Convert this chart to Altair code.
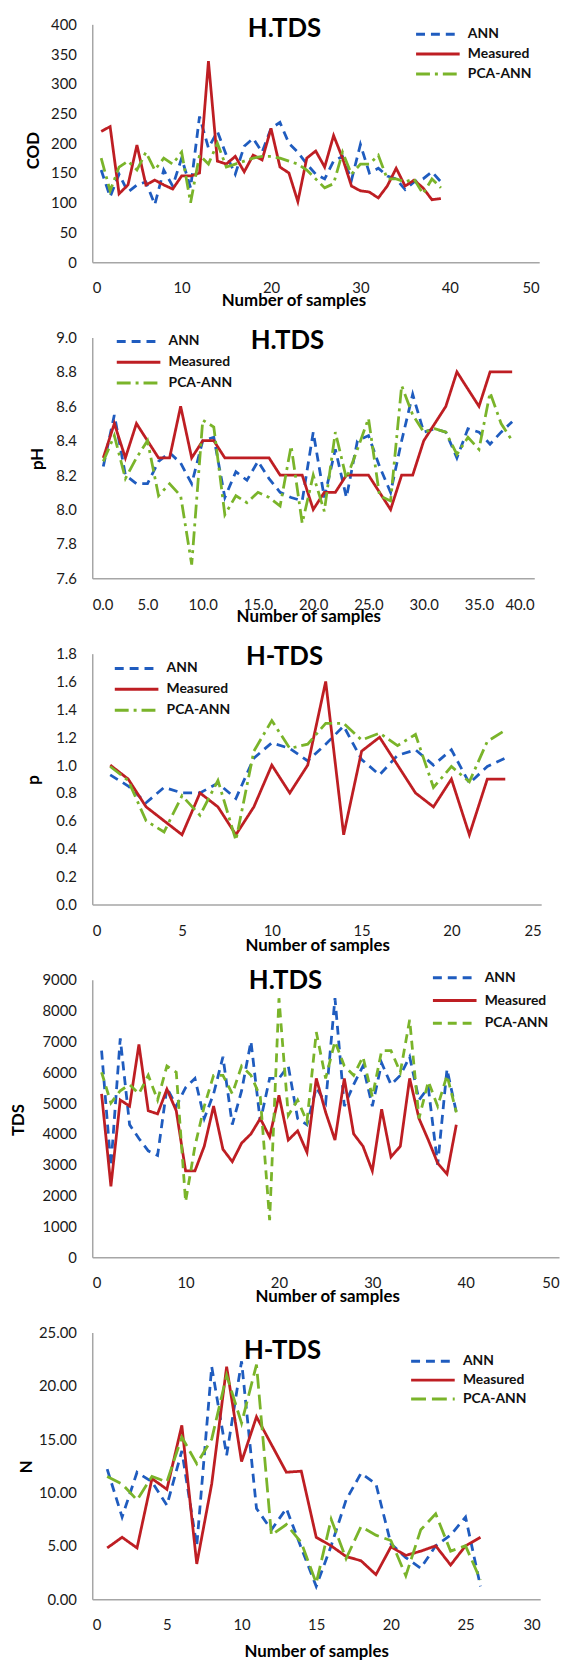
import altair as alt
import pandas as pd

# ---------------- data ----------------
names = ["ANN", "Measured", "PCA-ANN"]
colors = ["#1F5CBF", "#BE1E23", "#7AB42A"]

# Panel 1 : COD
cod_x = list(range(1, 40))
cod_ann = [155, 110, 148, 118, 130, 135, 97, 155, 128, 175, 125, 245, 192, 220, 180, 148, 195, 208, 185, 225,
           235, 200, 185, 165, 148, 140, 170, 178, 138, 198, 150, 158, 145, 140, 122, 135, 140, 152, 135]
cod_meas = [220, 228, 115, 130, 197, 130, 138, 130, 123, 145, 145, 150, 338, 170, 165, 178, 152, 180, 172, 225,
            160, 150, 102, 175, 187, 160, 213, 175, 128, 120, 118, 108, 128, 158, 128, 138, 125, 105, 107]
cod_pca = [175, 120, 160, 170, 155, 185, 155, 175, 165, 185, 100, 180, 165, 200, 160, 165, 170, 175, 178, 178,
           175, 170, 165, 155, 140, 125, 132, 185, 148, 165, 165, 180, 140, 140, 135, 140, 115, 140, 125]

# Panel 2 : pH
ph_x = list(range(1, 39))
ph_ann = [8.25, 8.55, 8.20, 8.15, 8.15, 8.28, 8.33, 8.27, 8.15, 8.40, 8.42, 8.07, 8.22, 8.17, 8.28, 8.18, 8.10,
          8.07, 8.05, 8.45, 8.07, 8.35, 8.07, 8.40, 8.43, 8.25, 8.10, 8.40, 8.67, 8.45, 8.47, 8.45, 8.30, 8.47,
          8.45, 8.38, 8.45, 8.51]
ph_meas = [8.3, 8.5, 8.3, 8.5, 8.4, 8.3, 8.3, 8.6, 8.3, 8.4, 8.4, 8.3, 8.3, 8.3, 8.3, 8.3, 8.2, 8.2, 8.2, 8.0,
           8.1, 8.1, 8.2, 8.2, 8.2, 8.1, 8.0, 8.2, 8.2, 8.4, 8.5, 8.6, 8.8, 8.7, 8.6, 8.8, 8.8, 8.8]
ph_pca = [8.28, 8.43, 8.18, 8.30, 8.40, 8.08, 8.15, 8.08, 7.68, 8.52, 8.48, 7.97, 8.08, 8.04, 8.10, 8.07, 8.02,
          8.37, 7.92, 8.20, 7.99, 8.45, 8.18, 8.35, 8.53, 8.08, 8.05, 8.72, 8.55, 8.45, 8.47, 8.45, 8.32, 8.42,
          8.35, 8.68, 8.50, 8.40]

# Panel 3 : p
p_x = list(range(1, 24))
p_ann = [0.93, 0.85, 0.73, 0.84, 0.80, 0.80, 0.87, 0.76, 1.05, 1.16, 1.12, 1.03, 1.15, 1.28, 1.04, 0.93, 1.07,
         1.11, 1.00, 1.11, 0.87, 0.99, 1.05]
p_meas = [1.0, 0.9, 0.7, 0.6, 0.5, 0.8, 0.7, 0.5, 0.7, 1.0, 0.8, 1.0, 1.6, 0.5, 1.1, 1.2, 1.0, 0.8, 0.7, 0.9,
          0.5, 0.9, 0.9]
p_pca = [0.99, 0.89, 0.60, 0.52, 0.78, 0.64, 0.89, 0.46, 1.10, 1.32, 1.12, 1.15, 1.30, 1.30, 1.18, 1.23, 1.14,
         1.22, 0.84, 0.99, 0.88, 1.17, 1.25]

# Panel 4 : TDS
tds_x = list(range(1, 40))
tds_ann = [6700, 2950, 7100, 4300, 3850, 3450, 3300, 5500, 4900, 5500, 5800, 4500, 5300, 6500, 4300, 5400, 7000,
           4400, 5800, 5800, 6200, 4500, 4300, 5500, 5000, 8400, 4900, 5600, 6200, 4900, 6300, 5600, 5900, 6500,
           5100, 5500, 3000, 6100, 4700]
tds_meas = [5300, 2300, 5100, 4900, 6900, 4750, 4650, 5450, 4750, 2800, 2800, 3600, 4900, 3500, 3100, 3700, 4000,
            4500, 3900, 5250, 3800, 4100, 3400, 5800, 4700, 3800, 5800, 4000, 3600, 2800, 4800, 3250, 3600, 5800,
            4500, 3800, 3050, 2700, 4300]
tds_pca = [6000, 5000, 5400, 5600, 5300, 5900, 5100, 6200, 6000, 1800, 3600, 4900, 5900, 5900, 5300, 6200, 5900,
           5200, 1200, 8400, 4600, 5100, 4400, 7300, 5800, 7000, 6200, 5900, 6500, 5200, 6700, 6700, 6000, 7700,
           4500, 5700, 4900, 5900, 4700]

# Panel 5 : N
n_x = list(range(1, 27))
n_ann = [12.2, 7.7, 11.9, 11.0, 8.8, 13.9, 5.0, 21.8, 13.5, 22.3, 8.5, 6.5, 8.5, 4.8, 1.2, 5.0, 9.3, 11.8, 10.8,
         5.2, 3.9, 2.9, 5.0, 6.0, 7.7, 1.2]
n_meas = [4.8, 5.8, 4.8, 11.3, 10.3, 16.3, 3.3, 10.8, 21.8, 12.9, 17.1, 14.5, 11.9, 12.0, 5.8, 5.0, 4.0, 3.6, 2.3,
          4.9, 4.1, 4.5, 5.0, 3.2, 5.0, 5.8]
n_pca = [11.5, 10.8, 9.3, 11.5, 11.0, 15.2, 12.7, 15.0, 21.0, 16.5, 22.0, 6.0, 7.0, 5.3, 1.5, 7.5, 3.8, 6.8, 6.0,
         5.5, 2.2, 6.5, 8.0, 4.5, 5.0, 1.8]

FONT = "Lato"


def long_df(x, ann, meas, pca):
    rows = []
    for nm, vals in zip(names, [ann, meas, pca]):
        for xi, v in zip(x, vals):
            rows.append({"x": xi, "value": v, "series": nm})
    return pd.DataFrame(rows)


def panel(df, W, H, title, xmax, xvals, xfmt, ytitle, ydom, yvals, yfmt,
          pca_dash, tx, ty, legx, legy, rowpad, ytx, yty, xtx, xty):
    dashes = [[9, 6], [1, 0], pca_dash]
    leg = alt.Legend(
        title=None, orient="none", legendX=legx, legendY=legy, padding=0,
        symbolType="M-7.5,0H0.5", symbolSize=121, symbolStrokeWidth=3,
        labelFont=FONT, labelFontSize=14, labelFontWeight="bold", labelColor="#111111",
        labelOffset=4, rowPadding=rowpad,
    )
    lines = alt.Chart(df).mark_line(strokeWidth=2.8).encode(
        x=alt.X("x:Q", scale=alt.Scale(domain=[0, xmax], nice=False, zero=False),
                axis=alt.Axis(values=xvals, format=xfmt, title="Number of samples",
                              titleX=xtx, titleY=xty, titleBaseline="middle", titleAlign="center",
                              labelPadding=19)),
        y=alt.Y("value:Q", scale=alt.Scale(domain=ydom, nice=False, zero=False),
                axis=alt.Axis(values=yvals, format=yfmt, title=ytitle,
                              titleX=ytx, titleY=yty, titleBaseline="middle", titleAlign="center",
                              titleAngle=270, labelPadding=16)),
        color=alt.Color("series:N", scale=alt.Scale(domain=names, range=colors), legend=leg),
        strokeDash=alt.StrokeDash("series:N", scale=alt.Scale(domain=names, range=dashes), legend=leg),
    )
    head = alt.Chart(pd.DataFrame({"t": [title]})).mark_text(
        font=FONT, fontSize=26, fontWeight="bold", color="black", align="center", baseline="middle"
    ).encode(text="t:N", x=alt.value(tx), y=alt.value(ty))
    return alt.layer(lines, head).properties(width=W, height=H)


p1 = panel(long_df(cod_x, cod_ann, cod_meas, cod_pca), 451, 240, "H.TDS", 50, [0, 10, 20, 30, 40, 50], "d",
           "COD", [0, 400], list(range(0, 401, 50)), "d", [14, 5, 3, 5],
           194, 5, 361, 3, 6, -59, 127, 203, 39)
p2 = panel(long_df(ph_x, ph_ann, ph_meas, ph_pca), 446, 243, "H.TDS", 40, [0, 5, 10, 15, 20, 25, 30, 35, 40], ".1f",
           "pH", [7.6, 9.0], [7.6, 7.8, 8.0, 8.2, 8.4, 8.6, 8.8, 9.0], ".1f", [14, 5, 3, 5],
           197, 4, 59, -3, 7, -55, 122, 218, 39)
p3 = panel(long_df(p_x, p_ann, p_meas, p_pca), 453, 253, "H-TDS", 25, [0, 5, 10, 15, 20, 25], "d",
           "p", [0, 1.8], [0, 0.2, 0.4, 0.6, 0.8, 1.0, 1.2, 1.4, 1.6, 1.8], ".1f", [14, 5, 3, 5],
           194, 3, 57, 8, 7, -59, 127, 227, 42)
p4 = panel(long_df(tds_x, tds_ann, tds_meas, tds_pca), 471, 280, "H.TDS", 50, [0, 10, 20, 30, 40, 50], "d",
           "TDS", [0, 9000], list(range(0, 9001, 1000)), "d", [9, 6],
           195, 1, 378, -9, 9, -74, 141, 237, 40)
p5 = panel(long_df(n_x, n_ann, n_meas, n_pca), 452, 269, "H-TDS", 30, [0, 5, 10, 15, 20, 25, 30], "d",
           "N", [0, 25], [0, 5, 10, 15, 20, 25], ".2f", [15, 6],
           192, 19, 356, 22, 5, -66, 135, 226, 53)

chart = alt.vconcat(p1, p2, p3, p4, p5, spacing=76, bounds="flush").resolve_scale(
    x="independent", y="independent", color="independent", strokeDash="independent"
).resolve_legend(color="independent", strokeDash="independent").properties(
    padding={"left": 2, "top": 1, "right": 4, "bottom": 2}, background="white"
).configure_view(stroke=None).configure_axis(
    grid=False, ticks=False, tickSize=0, domainColor="#A6A6A6", domainWidth=1.5,
    labelFont=FONT, labelFontSize=15, labelColor="#1a1a1a",
    titleFont=FONT, titleFontSize=17, titleFontWeight="bold", titleColor="black",
)

chart.save("out.html", embed_options={"renderer": "svg", "actions": False})
